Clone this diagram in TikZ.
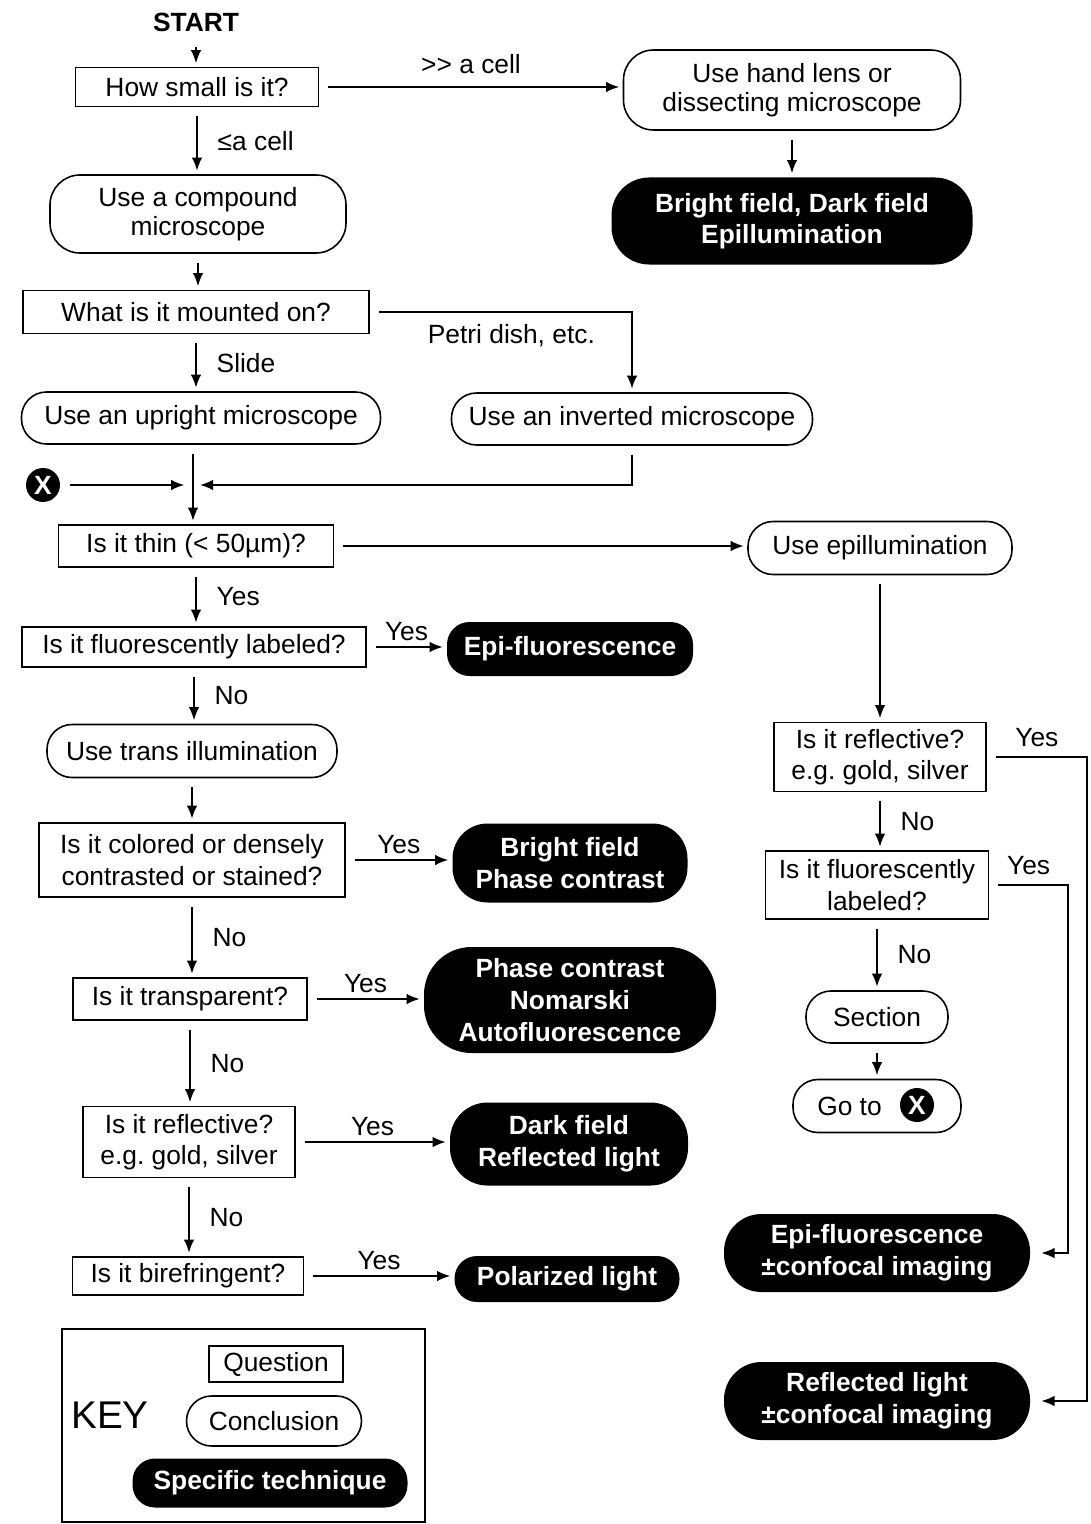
\documentclass[tikz,border=0pt]{standalone}
\usepackage{fontspec}
\setmainfont{Liberation Sans}
\usetikzlibrary{arrows.meta}
\frenchspacing

\begin{document}
\begin{tikzpicture}[x=0.02cm, y=-0.02cm, ->, >={Latex[length=7.5pt,width=6pt]},
  line width=0.9pt, shorten <=5pt, shorten >=2pt,
  every node/.style={font=\fontsize{15}{18}\selectfont, align=center},
  wh/.style 2 args={minimum width=#1*0.02cm, minimum height=#2*0.02cm, inner sep=0pt},
  question/.style={draw, rectangle},
  conclusion/.style={draw, rounded corners=0.5cm, font=\fontsize{15}{16.5}\selectfont},
  technique/.style={fill=black, text=white, rounded corners=0.45cm, font=\fontsize{15}{18}\selectfont\bfseries},
  xmark/.style={circle, fill=black, text=white, inner sep=0pt, minimum size=0.68cm, font=\fontsize{15}{18}\selectfont\bfseries}]
  \useasboundingbox (0,0) rectangle (1090,1524);

  \node[font=\fontsize{15}{18}\selectfont\bfseries] (start) at (196,22) {START};
  \node[question, wh={243}{39}] (q1) at (197,87) {How small is it?};
  \node[conclusion, wh={337}{80}, rounded corners=0.6cm] (c1) at (792,90) {Use hand lens or\\dissecting microscope};
  \node[technique, wh={361}{87}, rounded corners=0.75cm] (t1) at (792,221) {Bright field, Dark field\\Epillumination};
  \draw (q1.east) -- (q1.east -| c1.west) node[midway, above=4pt] {>\kern0pt> a cell};

  \node[conclusion, wh={296}{78}, rounded corners=0.6cm] (c2) at (198,214) {Use a compound\\microscope};
  \node[question, wh={346}{43}] (q2) at (196,312) {What is it mounted on?};
  \node[conclusion, wh={359}{52}] (c3) at (201,418) {Use an upright microscope};
  \node[conclusion, wh={361}{52}] (c4) at (632,419) {Use an inverted microscope};
  \draw (q2.east) -| (c4.north) node[pos=0.27, below=3pt] {Petri dish, etc.};

  \node[xmark] (x1) at (43,485) {X};
  \coordinate (join) at (193,485);
  \draw[shorten >=5pt] (x1) -- (join);
  \draw[shorten >=4pt] (c4.south) |- (join);

  \node[question, wh={275}{42}] (q3) at (196,546) {Is it thin (< 50µm)?};
  \draw (c3.south -| join) -- (join |- q3.north);
  \node[conclusion, wh={264}{53}] (c5) at (880,548) {Use epillumination};
  \draw (q3.east) -- (q3.east -| c5.west);

  % left column
  \node[question, wh={344}{40}] (q6) at (194,647) {Is it fluorescently labeled?};
  \node[technique, wh={246}{54}] (t2) at (570,649) {Epi-fluorescence};
  \node[conclusion, wh={290}{53}] (c8) at (192,751) {Use trans illumination};
  \node[question, wh={306}{74}] (q7) at (192,860) {Is it colored or densely\\contrasted or stained?};
  \node[technique, wh={235}{79}, rounded corners=0.7cm] (t3) at (570,863) {Bright field\\Phase contrast};
  \node[question, wh={234}{42}] (q8) at (190,999) {Is it transparent?};
  \node[technique, wh={292}{106}, rounded corners=0.95cm] (t4) at (570,1000) {Phase contrast\\Nomarski\\Autofluorescence};
  \node[question, wh={212}{71}] (q9) at (189,1142) {Is it reflective?\\e.g. gold, silver};
  \node[technique, wh={238}{83}, rounded corners=0.75cm] (t5) at (569,1144) {Dark field\\Reflected light};
  \node[question, wh={231}{38}] (q10) at (188,1276) {Is it birefringent?};
  \node[technique, wh={225}{46}] (t6) at (567,1279) {Polarized light};

  % right column
  \node[question, wh={212}{69}] (q4) at (880,757) {Is it reflective?\\e.g. gold, silver};
  \node[question, wh={223}{68}] (q5) at (877,885) {Is it fluorescently\\labeled?};
  \node[conclusion, wh={142}{52}] (c6) at (877,1017) {Section};
  \node[conclusion, wh={168}{53}] (c7) at (877,1106) {Go to\hspace{1.1cm}};
  \node[xmark] (x2) at (917,1105) {X};
  \node[technique, wh={306}{78}, rounded corners=0.75cm] (tr1) at (877,1253) {Epi-fluorescence\\±confocal imaging};
  \node[technique, wh={306}{78}, rounded corners=0.75cm] (tr2) at (877,1401) {Reflected light\\±confocal imaging};
  \coordinate (r1) at (1087,757);
  \coordinate (r2) at (1068,885);
  \draw (c5.south) -- (c5.south |- q4.north);
  \draw[shorten >=6pt] (q4.east) -- (r1) node[midway, above=2pt] {Yes} |- (tr2.east);
  \draw[shorten >=6pt] (q5.east) -- (r2) node[midway, above=2pt] {Yes} |- (tr1.east);

  \foreach \from/\to/\txt in {q1/c2/{≤a cell}, q2/c3/Slide, q3/q6/Yes, q6/c8/No, q7/q8/No,
                              q8/q9/No, q9/q10/No, q4/q5/No, q5/c6/No}
    \draw (\from.south) -- (\from.south |- \to.north) node[midway, right=8pt] {\txt};
  \foreach \from/\to in {start/q1, c1/t1, c2/q2, c8/q7, c6/c7}
    \draw (\from.south) -- (\from.south |- \to.north);
  \foreach \from/\to in {q6/t2, q7/t3, q8/t4, q9/t5, q10/t6}
    \draw (\from.east) -- (\from.east -| \to.west) node[midway, above] {Yes};

  % key
  \node[draw, wh={363}{193}] (key) at (243.5,1425.5) {};
  \node[font=\fontsize{22}{24}\selectfont] (keylbl) at (110,1415) {KEY};
  \node[question, wh={134}{36}] (kq) at (276,1364) {Question};
  \node[conclusion, wh={175}{50}] (kc) at (274,1421) {Conclusion};
  \node[technique, wh={275}{49}] (kt) at (270,1483) {Specific technique};

\end{tikzpicture}
\end{document}
